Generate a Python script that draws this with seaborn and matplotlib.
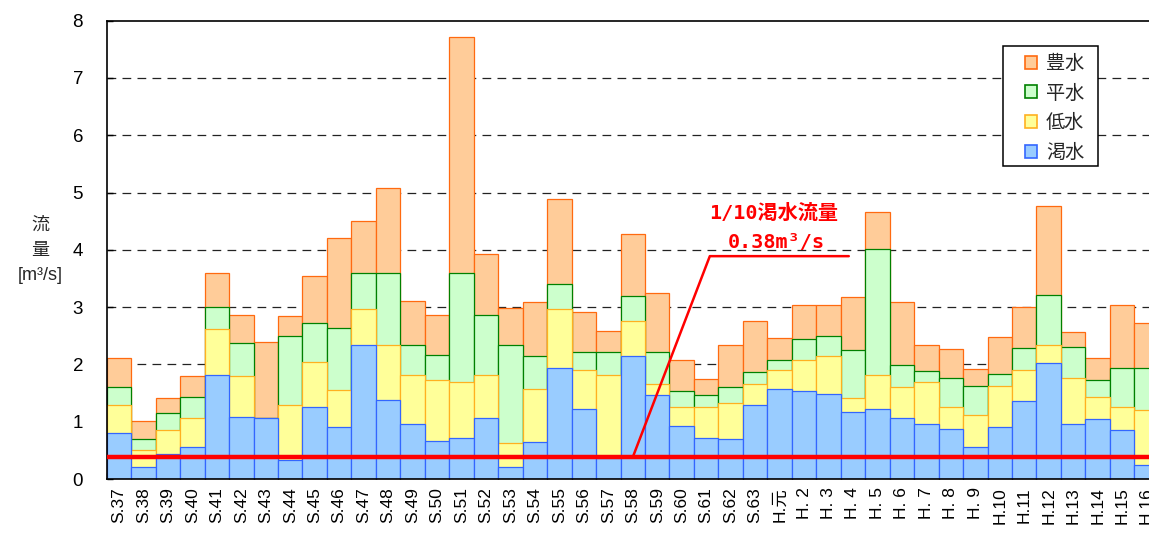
import matplotlib
matplotlib.use("Agg")
import matplotlib.pyplot as plt
from matplotlib.patches import Patch, Rectangle
import seaborn as sns
import pandas as pd

years = ["S.37", "S.38", "S.39", "S.40", "S.41", "S.42", "S.43", "S.44", "S.45",
         "S.46", "S.47", "S.48", "S.49", "S.50", "S.51", "S.52", "S.53", "S.54",
         "S.55", "S.56", "S.57", "S.58", "S.59", "S.60", "S.61", "S.62", "S.63",
         "H.元", "H. 2", "H. 3", "H. 4", "H. 5", "H. 6", "H. 7", "H. 8", "H. 9",
         "H.10", "H.11", "H.12", "H.13", "H.14", "H.15", "H.16"]

housui = [2.11, 1.02, 1.41, 1.79, 3.60, 2.87, 2.40, 2.85, 3.54,
          4.20, 4.50, 5.08, 3.11, 2.87, 7.72, 3.92, 2.98, 3.09,
          4.89, 2.91, 2.59, 4.28, 3.25, 2.08, 1.74, 2.34, 2.75,
          2.46, 3.04, 3.04, 3.17, 4.66, 3.09, 2.34, 2.27, 1.92,
          2.48, 3.01, 4.76, 2.56, 2.11, 3.04, 2.72]

heisui = [1.60, 0.70, 1.15, 1.44, 3.01, 2.37, 1.07, 2.50, 2.72,
          2.63, 3.59, 3.59, 2.34, 2.16, 3.59, 2.87, 2.34, 2.15,
          3.40, 2.22, 2.21, 3.19, 2.22, 1.54, 1.46, 1.60, 1.86,
          2.08, 2.44, 2.50, 2.26, 4.01, 1.99, 1.89, 1.76, 1.62,
          1.84, 2.28, 3.22, 2.31, 1.72, 1.94, 1.94]

teisui = [1.30, 0.50, 0.85, 1.07, 2.62, 1.79, 1.07, 1.29, 2.05,
          1.55, 2.96, 2.34, 1.81, 1.73, 1.70, 1.81, 0.62, 1.57,
          2.96, 1.91, 1.81, 2.75, 1.65, 1.26, 1.26, 1.33, 1.65,
          1.90, 2.08, 2.15, 1.41, 1.81, 1.60, 1.70, 1.25, 1.12,
          1.62, 1.90, 2.34, 1.76, 1.44, 1.26, 1.20]

kassui = [0.80, 0.21, 0.43, 0.56, 1.81, 1.09, 1.07, 0.33, 1.26,
          0.91, 2.34, 1.38, 0.96, 0.67, 0.72, 1.07, 0.21, 0.64,
          1.94, 1.22, 0.37, 2.15, 1.46, 0.93, 0.71, 0.70, 1.30,
          1.57, 1.54, 1.49, 1.17, 1.22, 1.06, 0.96, 0.88, 0.56,
          0.91, 1.36, 2.02, 0.96, 1.04, 0.85, 0.24]

series_names = ["豊水", "平水", "低水", "渇水"]
fills = ["#FFCC99", "#CCFFCC", "#FFFF99", "#99CCFF"]
edges = ["#FF6A10", "#008000", "#FFB020", "#3366FF"]

y_ticks = [0, 1, 2, 3, 4, 5, 6, 7, 8]
drought_1_10 = 0.38
annot_line1 = "1/10渇水流量"
annot_line2 = "0.38m³/s"

sns.set_theme(style="white")
plt.rcParams['font.family'] = ['Liberation Sans', 'Noto Sans CJK JP']

W, H = 1149, 533
fig = plt.figure(figsize=(W / 100, H / 100), dpi=100)
left, right, bottom, top = 106.7, 1158.8, 479.0, 20.7
ax = fig.add_axes([left / W, 1 - bottom / H, (right - left) / W, (bottom - top) / H])

df = pd.DataFrame({"year": years, "豊水": housui, "平水": heisui,
                   "低水": teisui, "渇水": kassui})

for name, fc, ec in zip(series_names, fills, edges):
    sns.barplot(data=df, x="year", y=name, color=fc, edgecolor=ec, linewidth=0.9,
                width=1.0, saturation=1, errorbar=None, ax=ax, zorder=2)

ax.set_xlim(-0.5, len(years) - 0.5)
ax.set_ylim(0, 8)
ax.set_yticks(y_ticks)
ax.set_yticklabels([str(t) for t in y_ticks], fontsize=13.5)
ax.set_xlabel("")
ax.set_ylabel("")
ax.set_xticks(range(len(years)))
ax.set_xticklabels(years, rotation=90, fontsize=12.5)
ax.set_xticks([i + 0.5 for i in range(-1, len(years))], minor=True)
ax.tick_params(axis='x', which='major', length=0, pad=6, colors='black')
ax.tick_params(axis='x', which='minor', direction='in', length=4, width=1, color='black', bottom=True)
ax.tick_params(axis='y', which='major', direction='in', length=4, width=1, pad=17, left=True, colors='black')

for y in y_ticks[1:-1]:
    ax.axhline(y, color='#222222', lw=0.9, ls=(0, (7, 5)), zorder=0.5)

for s in ax.spines.values():
    s.set_color('black')
    s.set_linewidth(1.2)

# 1/10 drought flow line
ax.axhline(drought_1_10, color='#FF0000', lw=3.2, zorder=5)
ax.plot([21.0, 24.15, 29.83], [drought_1_10, 3.89, 3.89], color='#FF0000', lw=1.8, zorder=6)
afam = ['DejaVu Sans Mono', 'Noto Sans CJK JP']
ax.text(26.75, 4.64, annot_line1, color='#FF0000', fontsize=14.5, fontweight='bold',
        ha='center', va='center', family=afam, zorder=7)
ax.text(26.85, 4.12, annot_line2, color='#FF0000', fontsize=14.5, fontweight='bold',
        ha='center', va='center', family=afam, zorder=7)

# y label
fig.text(40 / W, 1 - 225 / H, "流", fontsize=13, ha='center', va='center',
         family=['Noto Sans CJK JP'])
fig.text(40 / W, 1 - 250 / H, "量", fontsize=13, ha='center', va='center',
         family=['Noto Sans CJK JP'])
fig.text(40 / W, 1 - 276 / H, "[m³/s]", fontsize=13, ha='center', va='center')

# legend box
box = Rectangle((1003 / W, 1 - 166 / H), 95 / W, 120 / H, transform=fig.transFigure,
                facecolor='white', edgecolor='black', linewidth=1.1, zorder=3)
fig.patches.append(box)
handles = [Patch(facecolor=fc, edgecolor=ec, linewidth=1.2) for fc, ec in zip(fills, edges)]
leg = fig.legend(handles, series_names, loc='upper left',
                 bbox_to_anchor=(1025 / W, 1 - 53 / H), bbox_transform=fig.transFigure,
                 frameon=False, handlelength=0.65, handleheight=0.65, handletextpad=0.45,
                 labelspacing=0.45, borderpad=0, borderaxespad=0,
                 prop={'family': ['Noto Sans CJK JP'], 'size': 13.8})
leg.set_zorder(4)

fig.savefig("out.png", dpi=100)
